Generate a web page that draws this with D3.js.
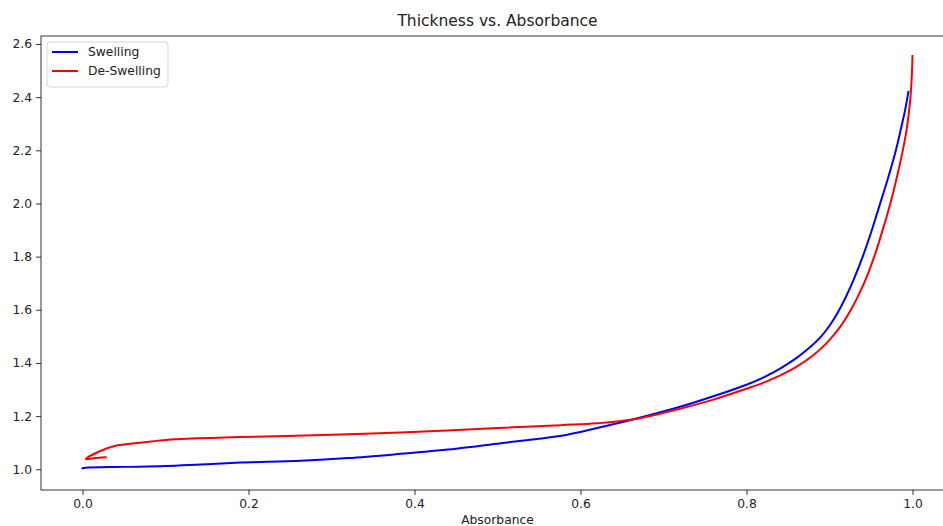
<!DOCTYPE html>
<html>
<head>
<meta charset="utf-8">
<script src="https://cdn.jsdelivr.net/npm/d3@7"></script>
<style>
  html, body { margin: 0; padding: 0; background: #fff; }
  svg { display: block; font-family: "DejaVu Sans", sans-serif; }
</style>
</head>
<body>
<svg id="chart" width="943" height="526"></svg>
<script>
// Swelling run: absorbance (x) and film thickness (y)
const swellAbs = [0.000, 0.004, 0.05, 0.10, 0.142, 0.19, 0.263, 0.32, 0.383, 0.45, 0.504, 0.55, 0.584, 0.62, 0.664, 0.72, 0.77, 0.80, 0.82, 0.84, 0.86, 0.875, 0.89, 0.90, 0.91, 0.92, 0.93, 0.94, 0.95, 0.96, 0.97, 0.98, 0.986, 0.991, 0.995];
const swellThk = [1.004, 1.006, 1.009, 1.012, 1.018, 1.025, 1.032, 1.042, 1.058, 1.077, 1.098, 1.115, 1.130, 1.155, 1.188, 1.235, 1.285, 1.318, 1.345, 1.378, 1.418, 1.455, 1.500, 1.540, 1.590, 1.650, 1.720, 1.800, 1.890, 1.990, 2.090, 2.200, 2.280, 2.350, 2.420];

// De-swelling run, in acquisition order (from the swollen state back down)
const deswellAbs = [1.000, 0.999, 0.997, 0.993, 0.988, 0.982, 0.975, 0.965, 0.955, 0.945, 0.935, 0.925, 0.915, 0.905, 0.895, 0.88, 0.86, 0.84, 0.82, 0.80, 0.76, 0.72, 0.664, 0.62, 0.576, 0.50, 0.383, 0.30, 0.19, 0.11, 0.07, 0.042, 0.018, 0.004, 0.015, 0.028];
const deswellThk = [2.555, 2.470, 2.380, 2.280, 2.195, 2.110, 2.020, 1.910, 1.810, 1.725, 1.655, 1.595, 1.545, 1.505, 1.470, 1.428, 1.385, 1.352, 1.325, 1.303, 1.262, 1.228, 1.188, 1.173, 1.166, 1.155, 1.138, 1.130, 1.121, 1.113, 1.100, 1.090, 1.064, 1.038, 1.042, 1.045];

const seriesNames = ["Swelling", "De-Swelling"];
const seriesColors = ["#0000ff", "#ff0000"];
const xTicks = [0.0, 0.2, 0.4, 0.6, 0.8, 1.0];
const yTicks = [1.0, 1.2, 1.4, 1.6, 1.8, 2.0, 2.2, 2.4, 2.6];

const svg = d3.select("#chart");
const plot = { left: 41, right: 954, top: 36, bottom: 490 };

const x = d3.scaleLinear().domain([-0.05, 1.05]).range([plot.left, plot.right]);
const y = d3.scaleLinear().domain([0.922, 2.630]).range([plot.bottom, plot.top]);

svg.append("defs").append("clipPath").attr("id", "plotClip")
  .append("rect")
  .attr("x", plot.left).attr("y", plot.top)
  .attr("width", plot.right - plot.left).attr("height", plot.bottom - plot.top);

const series = [
  { name: seriesNames[0], color: seriesColors[0], pts: d3.zip(swellAbs, swellThk) },
  { name: seriesNames[1], color: seriesColors[1], pts: d3.zip(deswellAbs, deswellThk) }
];

const line = d3.line().x(d => x(d[0])).y(d => y(d[1])).curve(d3.curveCatmullRom.alpha(0.5));

svg.append("g").attr("clip-path", "url(#plotClip)")
  .selectAll("path").data(series).join("path")
  .attr("d", d => line(d.pts))
  .attr("fill", "none")
  .attr("stroke", d => d.color)
  .attr("stroke-width", 2)
  .attr("stroke-linejoin", "round")
  .attr("stroke-linecap", "square");

// Axes
const xAxis = d3.axisBottom(x).tickValues(xTicks).tickFormat(d3.format(".1f")).tickSize(5).tickPadding(4);
const yAxis = d3.axisLeft(y).tickValues(yTicks).tickFormat(d3.format(".1f")).tickSize(5).tickPadding(4);

const gx = svg.append("g").attr("transform", `translate(0,${plot.bottom})`).call(xAxis);
const gy = svg.append("g").attr("transform", `translate(${plot.left},0)`).call(yAxis);

[gx, gy].forEach(g => {
  g.select(".domain").remove();
  g.selectAll(".tick line").attr("stroke", "#000").attr("stroke-width", 0.8);
  g.selectAll(".tick text").attr("fill", "#222").style("font-size", "12.3px").style("font-family", "DejaVu Sans");
});

// Frame
svg.append("rect")
  .attr("x", plot.left).attr("y", plot.top)
  .attr("width", plot.right - plot.left).attr("height", plot.bottom - plot.top)
  .attr("fill", "none").attr("stroke", "#000").attr("stroke-width", 0.8);

// Title and axis label
svg.append("text")
  .attr("x", (plot.left + plot.right) / 2).attr("y", 26)
  .attr("text-anchor", "middle")
  .attr("fill", "#222")
  .style("font-size", "15.5px")
  .text("Thickness vs. Absorbance");

svg.append("text")
  .attr("x", (plot.left + plot.right) / 2).attr("y", 524)
  .attr("text-anchor", "middle")
  .attr("fill", "#222")
  .style("font-size", "12.3px")
  .text("Absorbance");

// Legend
const legend = svg.append("g").attr("transform", "translate(47,42)");
legend.append("rect")
  .attr("x", 0).attr("y", 0).attr("width", 121).attr("height", 45)
  .attr("rx", 3).attr("ry", 3)
  .attr("fill", "#fff").attr("fill-opacity", 0.8)
  .attr("stroke", "#d5d5d5").attr("stroke-width", 1);

const items = legend.selectAll("g.item").data(series).join("g")
  .attr("class", "item")
  .attr("transform", (d, i) => `translate(0,${10 + i * 19})`);
items.append("line")
  .attr("x1", 5).attr("x2", 31).attr("y1", 0).attr("y2", 0)
  .attr("stroke", d => d.color).attr("stroke-width", 2);
items.append("text")
  .attr("x", 41).attr("y", 0).attr("dy", "0.35em")
  .attr("fill", "#222")
  .style("font-size", "12.3px")
  .text(d => d.name);
</script>
</body>
</html>
